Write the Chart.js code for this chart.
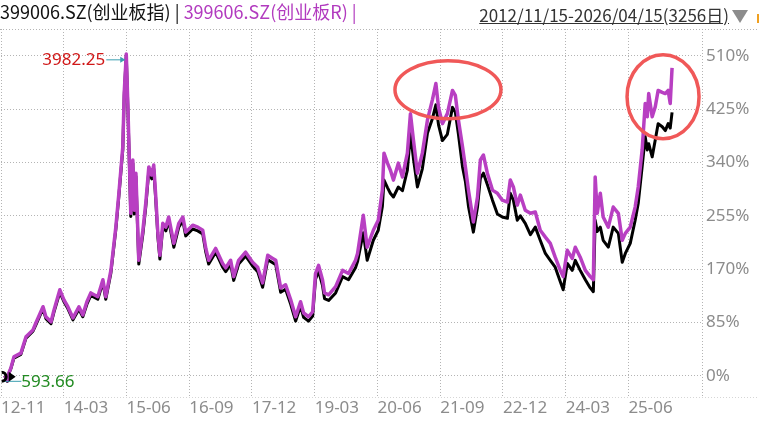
<!DOCTYPE html>
<html lang="zh-CN">
<head>
<meta charset="utf-8">
<title>创业板指 / 创业板R</title>
<script src="https://cdn.jsdelivr.net/npm/chart.js@4.4.1/dist/chart.umd.min.js"></script>
<style>
  html, body { margin: 0; padding: 0; background: #fff; }
  #box { position: relative; width: 759px; height: 425px; overflow: hidden; }
  #chart { position: absolute; left: 0; top: 0; }
  .head { position: absolute; white-space: nowrap; font-family: "Noto Sans CJK SC", "Noto Sans", sans-serif; }
  #names { left: 0; top: 0; font-size: 18px; line-height: 22px; color: #111; }
  #names .r { color: #b23bbf; }
  #range { right: 30px; top: 3px; font-size: 17px; line-height: 23px; color: #333; text-decoration: underline; }
  #tri { position: absolute; left: 732px; top: 10px; width: 0; height: 0; border-left: 8px solid transparent; border-right: 8px solid transparent; border-top: 13px solid #8c8c8c; }
  #mark { position: absolute; left: 757px; top: 14px; width: 2px; height: 9px; background: #f0a020; }
</style>
</head>
<body>
<div id="box">
  <canvas id="chart" width="759" height="425"></canvas>
  <div class="head" id="names"></div>
  <div class="head" id="range"></div>
  <div id="tri"></div>
  <div id="mark"></div>
</div>
<script>
// header texts
var names = ['399006.SZ(创业板指)', '399606.SZ(创业板R)'];
var rangeText = '2012/11/15-2026/04/15(3256日)';

// trading day index since 2012/11/15 and % change for both indices
var days = [0, 13, 21, 30, 45, 79, 104, 138, 152, 187, 201, 226, 240, 269, 289, 308, 333, 362, 381, 401,
    420, 454, 479, 493, 518, 542, 557, 576, 583, 593, 601, 608, 615, 625, 632, 640, 654, 674, 688, 703,
    717, 727, 737, 747, 757, 771, 786, 800, 825, 849, 869, 883, 917, 942, 966, 981, 995, 1029, 1063, 1078,
    1102, 1117, 1141, 1175, 1209, 1234, 1258, 1283, 1307, 1322, 1346, 1370, 1395, 1419, 1443, 1458, 1482, 1502, 1516, 1531,
    1550, 1560, 1580, 1614, 1648, 1677, 1711, 1721, 1749, 1768, 1798, 1822, 1842, 1850, 1867, 1881, 1896, 1920, 1940, 1964,
    1979, 1994, 2013, 2037, 2062, 2086, 2103, 2116, 2135, 2159, 2184, 2198, 2213, 2233, 2247, 2262, 2286, 2306, 2320, 2335,
    2354, 2379, 2403, 2427, 2452, 2466, 2481, 2500, 2515, 2539, 2564, 2588, 2612, 2637, 2661, 2685, 2710, 2724, 2744, 2768,
    2783, 2807, 2832, 2856, 2871, 2880, 2890, 2905, 2919, 2944, 2968, 2993, 3012, 3027, 3051, 3075, 3090, 3109, 3124, 3134,
    3141, 3158, 3173, 3187, 3207, 3222, 3236, 3246, 3255];

var cybR = [0, -8, 5, 12, 30, 36, 62, 73, 84, 110, 94, 86, 104, 137, 121, 110, 92, 110, 97, 118,
    132, 126, 153, 126, 168, 237, 291, 365, 451, 513, 428, 344, 259, 344, 264, 323, 184, 232, 275, 333,
    320, 336, 285, 228, 192, 243, 237, 253, 211, 243, 253, 229, 240, 237, 232, 203, 184, 203, 179, 172,
    184, 158, 184, 197, 181, 173, 148, 192, 187, 184, 140, 145, 121, 94, 118, 100, 94, 102, 163, 176,
    153, 132, 129, 142, 168, 163, 184, 195, 256, 205, 232, 248, 296, 355, 339, 328, 312, 339, 317, 355,
    418, 375, 323, 355, 408, 440, 466, 428, 402, 418, 455, 447, 408, 365, 333, 296, 245, 285, 344, 352,
    323, 296, 291, 280, 277, 312, 301, 272, 288, 264, 259, 261, 232, 221, 211, 189, 168, 158, 200, 187,
    205, 189, 168, 158, 153, 317, 259, 291, 253, 237, 269, 259, 216, 227, 237, 269, 301, 360, 434, 413,
    450, 413, 429, 455, 452, 450, 455, 434, 491];

var cyb = [0, -9, 4, 11, 28, 34, 60, 71, 81, 107, 91, 83, 101, 133, 118, 107, 89, 106, 94, 114,
    128, 122, 149, 122, 164, 233, 287, 360, 447, 511, 424, 339, 254, 339, 258, 318, 178, 226, 269, 327,
    314, 330, 279, 222, 186, 237, 231, 247, 205, 237, 247, 223, 234, 231, 226, 197, 178, 197, 173, 166,
    178, 152, 178, 191, 175, 166, 141, 185, 180, 177, 133, 138, 114, 87, 111, 93, 87, 95, 154, 167,
    144, 123, 120, 132, 158, 153, 172, 182, 228, 184, 216, 232, 270, 312, 300, 291, 285, 301, 295, 328,
    387, 345, 301, 330, 387, 410, 432, 400, 375, 385, 428, 420, 385, 333, 310, 270, 229, 269, 315, 323,
    305, 280, 258, 253, 251, 291, 280, 248, 255, 243, 225, 237, 216, 195, 184, 173, 150, 137, 179, 168,
    184, 168, 153, 140, 134, 248, 230, 237, 216, 205, 237, 227, 181, 195, 211, 248, 275, 333, 381, 360,
    370, 349, 376, 402, 397, 391, 402, 395, 420];

var tickDays = [-18, 288, 594, 900, 1206, 1512, 1818, 2124, 2430, 2736, 3042];
var tickLabels = ['12-11', '14-03', '15-06', '16-09', '17-12', '19-03', '20-06', '21-09', '22-12', '24-03', '25-06'];
var yTicks = [0, 85, 170, 255, 340, 425, 510];

var peakValue = '3982.25';
var lowValue = '593.66';
// red rings drawn over the chart (centre in data units, radius in px)
var circles = [
    {day: 2162, pct: 456, rx: 53, ry: 29},
    {day: 3211, pct: 445, rx: 36, ry: 42}
];

var xMin = -18, xMax = 3401, yMin = -34, yMax = 553;

document.getElementById('names').innerHTML =
    names[0] + ' | <span class="r">' + names[1] + ' |</span>';
document.getElementById('range').textContent = rangeText;

Chart.defaults.font.family = '"Noto Sans", sans-serif';

var gridColor = '#b4b4b4';

// top / bottom frame lines across the whole width
var frame = {
    id: 'frame',
    beforeDatasetsDraw: function (chart) {
        var ctx = chart.ctx, a = chart.chartArea;
        ctx.save();
        ctx.lineWidth = 1;
        ctx.setLineDash([1, 2]);
        ctx.strokeStyle = gridColor;
        ctx.beginPath();
        ctx.moveTo(0, a.top + 0.5);
        ctx.lineTo(chart.width, a.top + 0.5);
        ctx.stroke();
        ctx.strokeStyle = '#d6d6d6';
        ctx.beginPath();
        ctx.moveTo(0, a.bottom + 0.5);
        ctx.lineTo(chart.width, a.bottom + 0.5);
        ctx.stroke();
        ctx.restore();
    }
};

var notes = {
    id: 'notes',
    afterDatasetsDraw: function (chart) {
        var ctx = chart.ctx, x = chart.scales.x, y = chart.scales.y;
        var hi = 0, lo = 0;
        cyb.forEach(function (v, i) {
            if (v > cyb[hi]) hi = i;
            if (v < cyb[lo]) lo = i;
        });
        ctx.save();

        // peak label
        var px = x.getPixelForValue(days[hi]), py = y.getPixelForValue(cyb[hi]);
        ctx.strokeStyle = '#3a9fb0';
        ctx.fillStyle = '#3a9fb0';
        ctx.lineWidth = 1;
        ctx.beginPath();
        ctx.moveTo(px - 20, py + 4.5);
        ctx.lineTo(px - 2, py + 4.5);
        ctx.stroke();
        ctx.beginPath();
        ctx.moveTo(px - 1, py + 4.5);
        ctx.lineTo(px - 6, py + 1.5);
        ctx.lineTo(px - 6, py + 7.5);
        ctx.closePath();
        ctx.fill();
        ctx.font = '17px "Noto Sans", sans-serif';
        ctx.textAlign = 'right';
        ctx.textBaseline = 'middle';
        ctx.fillStyle = '#d01818';
        ctx.fillText(peakValue, px - 21, py + 5);

        // low label
        var lx = x.getPixelForValue(days[lo]), ly = y.getPixelForValue(cyb[lo]);
        ctx.strokeStyle = '#3a9fb0';
        ctx.beginPath();
        ctx.moveTo(lx - 3, ly);
        ctx.lineTo(lx + 14, ly);
        ctx.stroke();
        ctx.textAlign = 'left';
        ctx.fillStyle = '#228b22';
        ctx.fillText(lowValue, lx + 14, ly + 1);

        // start marker
        var sx = x.getPixelForValue(days[0]), sy = y.getPixelForValue(cyb[0]);
        ctx.strokeStyle = '#000';
        ctx.fillStyle = '#000';
        ctx.lineWidth = 3;
        ctx.beginPath();
        ctx.arc(sx - 3, sy + 1, 4.5, -Math.PI / 2, Math.PI / 2);
        ctx.stroke();
        ctx.beginPath();
        ctx.moveTo(sx + 4, sy - 4);
        ctx.lineTo(sx + 11, sy + 1);
        ctx.lineTo(sx + 4, sy + 6);
        ctx.closePath();
        ctx.fill();

        // red rings
        ctx.strokeStyle = '#f05858';
        ctx.lineWidth = 3.5;
        circles.forEach(function (c) {
            ctx.beginPath();
            ctx.ellipse(x.getPixelForValue(c.day), y.getPixelForValue(c.pct), c.rx, c.ry, 0, 0, Math.PI * 2);
            ctx.stroke();
        });
        ctx.restore();
    }
};

var config = {
    type: 'line',
    data: {
        datasets: [{
            label: names[1],
            data: days.map(function (d, i) { return {x: d, y: cybR[i]}; }),
            borderColor: '#b83fc2',
            borderWidth: 3.5,
            borderJoinStyle: 'round',
            pointRadius: 0,
            tension: 0,
            order: 0
        }, {
            label: names[0],
            data: days.map(function (d, i) { return {x: d, y: cyb[i]}; }),
            borderColor: '#000',
            borderWidth: 3,
            borderJoinStyle: 'round',
            pointRadius: 0,
            tension: 0,
            order: 1
        }]
    },
    options: {
        responsive: false,
        animation: false,
        layout: {padding: {top: 29, left: 0, right: 0, bottom: 0}},
        plugins: {legend: {display: false}, tooltip: {enabled: false}},
        scales: {
            x: {
                type: 'linear',
                min: xMin,
                max: xMax,
                afterBuildTicks: function (s) {
                    s.ticks = tickDays.concat([xMax]).map(function (v) { return {value: v}; });
                },
                afterFit: function (s) { s.height = 28; },
                ticks: {
                    autoSkip: false,
                    maxRotation: 0,
                    align: 'start',
                    padding: 1,
                    color: '#8c8c8c',
                    font: {size: 17},
                    callback: function (v, i) { return tickLabels[i] || ''; }
                },
                grid: {color: gridColor, drawTicks: false},
                border: {display: false, dash: [1, 2]}
            },
            y: {
                position: 'right',
                min: yMin,
                max: yMax,
                afterBuildTicks: function (s) {
                    s.ticks = yTicks.map(function (v) { return {value: v}; });
                },
                afterFit: function (s) { s.width = 57; },
                ticks: {
                    padding: 4,
                    color: '#8c8c8c',
                    font: {size: 17},
                    callback: function (v) { return v + '%'; }
                },
                grid: {color: gridColor, drawTicks: false},
                border: {display: false, dash: [1, 2]}
            }
        }
    },
    plugins: [frame, notes]
};

var chart = new Chart(document.getElementById('chart'), config);
</script>
</body>
</html>
